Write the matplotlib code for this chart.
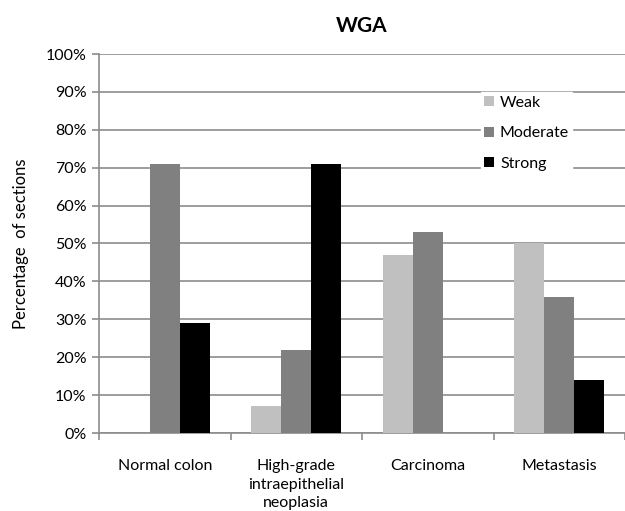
import numpy as np
import matplotlib
matplotlib.use("Agg")
import matplotlib.pyplot as plt
from matplotlib.ticker import FuncFormatter

plt.rcParams['font.family'] = ['Lato', 'DejaVu Sans']

categories = ["Normal colon", "High-grade\nintraepithelial\nneoplasia", "Carcinoma", "Metastasis"]
series = ["Weak", "Moderate", "Strong"]
weak = [0, 7, 47, 50]
moderate = [71, 22, 53, 36]
strong = [29, 71, 0, 14]
colors = ["#c0c0c0", "#808080", "#000000"]

fig = plt.figure(figsize=(6.25, 5.11), dpi=100)
ax = fig.add_axes([99 / 625, 78 / 511, 526 / 625, 379 / 511])

x = np.arange(len(categories))
w = 0.228
for i, (name, vals) in enumerate(zip(series, [weak, moderate, strong])):
    ax.bar(x + (i - 1) * w, vals, width=w, color=colors[i], label=name, zorder=3)

ax.set_xlim(-0.5, 3.5)
ax.set_ylim(0, 100)
ax.set_yticks(range(0, 101, 10))
ax.yaxis.set_major_formatter(FuncFormatter(lambda v, p: f"{int(v)}%"))
ax.yaxis.grid(True, color="#8c8c8c", linewidth=1.2, zorder=0)

ax.set_xticks(x)
ax.set_xticklabels(categories, fontsize=11.5, linespacing=1.4)
ax.set_xticks(np.arange(-0.5, 3.6, 1), minor=True)
ax.tick_params(axis="x", which="major", length=0, pad=19)
ax.tick_params(axis="x", which="minor", length=5, color="#8c8c8c", width=1.2)
ax.tick_params(axis="y", length=5, color="#8c8c8c", width=1.2, labelsize=11.5, pad=4)

for s in ["top", "right"]:
    ax.spines[s].set_visible(False)
for s in ["left", "bottom"]:
    ax.spines[s].set_color("#8c8c8c")
    ax.spines[s].set_linewidth(1.2)

ax.set_ylabel("Percentage  of sections", fontsize=12, labelpad=12)
ax.set_title("WGA", fontsize=15, fontweight="bold", pad=16)

leg = ax.legend(loc="upper right", bbox_to_anchor=(0.915, 0.92), frameon=True, fancybox=False,
                edgecolor="white", framealpha=1, fontsize=11.5, handlelength=0.6,
                handleheight=0.6, handletextpad=0.4, labelspacing=1.05, borderpad=0.2)
leg.set_zorder(5)

fig.savefig("out.png", dpi=100)
